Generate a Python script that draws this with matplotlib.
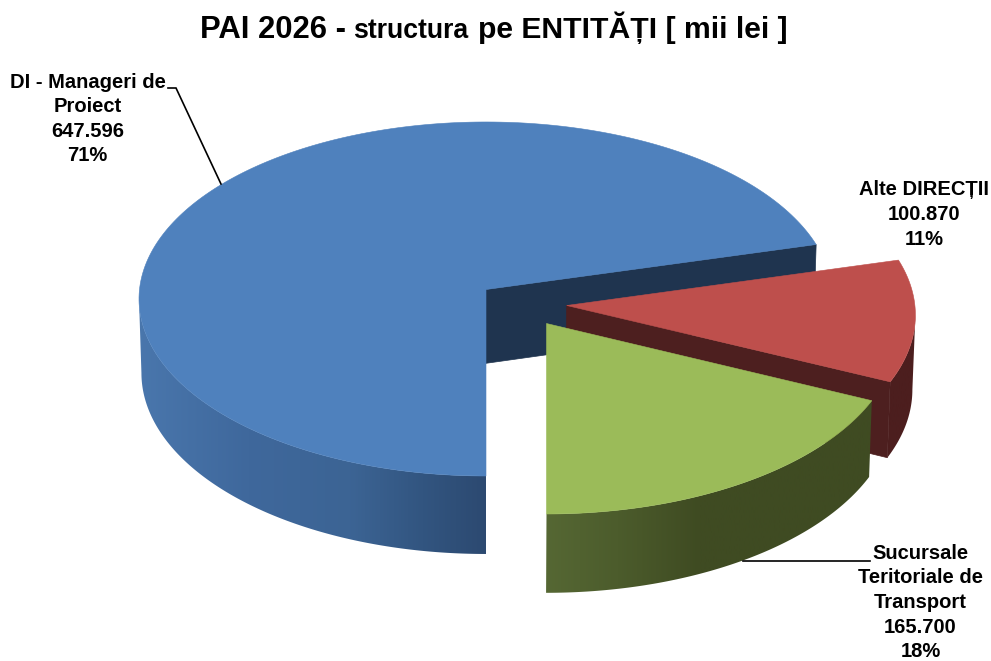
import numpy as np
import matplotlib
matplotlib.use("Agg")
import matplotlib.pyplot as plt
from matplotlib.patches import Polygon

# ---- data ----
categories = ["DI - Manageri de\nProiect", "Alte DIRECȚII", "Sucursale\nTeritoriale de\nTransport"]
values = [647596, 100870, 165700]
title_parts = ["PAI 2026 -", "structura", "pe ENTITĂȚI [ mii lei ]"]

# ---- layout / style ----
W, H = 991, 661
CX, CY, A, B, K = 486.0, 289.5, 346.5, 176.5, 0.0536
DEPTH, XSHRINK = 73.8, 0.993
START = 270.0
SILHOUETTE = np.degrees(np.arcsin(K))  # angle of the widest point of the perspective ellipse
offsets = [(0.0, 0.0), (80.7, -0.0902), (60.5, -0.1907)]  # screen x shift, depth shift
top_colors = ["#4f81bd", "#be4f4c", "#9bbb59"]
inner_colors = ["#1f344f", "#4d1f1f", None]
wall_stops = [
    ([140, 250, 350, 420, 484], [(74, 119, 173), (63, 104, 156), (60, 100, 148), (50, 85, 128), (44, 73, 112)]),
    ([560, 920], [(76, 30, 30), (76, 30, 30)]),
    ([547, 620, 700, 870], [(86, 104, 52), (76, 92, 44), (63, 75, 34), (63, 75, 34)]),
]
label_pos = [(87.5, 119), (924, 214.5), (920.5, 602.5)]
plt.rcParams["font.family"] = ["Liberation Sans", "DejaVu Sans"]


def project(u, v, off, lower=False):
    v = v + off[1]
    w = 1 + K * v
    x = off[0] + A * u / w
    y = -B * v / w
    if lower:
        return CX + x * XSHRINK, CY + y + DEPTH / w
    return CX + x, CY + y


def side_points(theta1, theta2, off, lower=False):
    t = np.radians(np.linspace(theta1, theta2, 240))
    return np.column_stack(project(np.cos(t), np.sin(t), off, lower))


fig = plt.figure(figsize=(W / 100, H / 100), dpi=100, facecolor="white")
ax = fig.add_axes([0, 0, 1, 1])
total = sum(values)
sweeps = [v / total * 360 for v in values]

theta = START
z = 1
for i, sweep in enumerate(sweeps):
    t1, t2 = theta, theta - sweep
    off = offsets[i]
    top_arc = side_points(t1, t2, off)
    apex_top = np.array(project(0, 0, off))
    apex_bot = np.array(project(0, 0, off, True))
    corner_bot = side_points(t1, t2, off, True)[-1]

    # cut face at the clockwise end of the slice
    if inner_colors[i]:
        ax.add_patch(Polygon([apex_top, top_arc[-1], corner_bot, apex_bot], closed=True,
                             fc=inner_colors[i], ec=inner_colors[i], lw=0.5, zorder=z))
        z += 1

    # outer rim, only the part that faces the viewer, with a horizontal shading
    if t1 > 180:
        r1, r2 = t1, max(t2, 180 + SILHOUETTE)
    else:
        r1, r2 = min(t1, -SILHOUETTE), t2
    rim_top = side_points(r1, r2, off)
    rim_bot = side_points(r1, r2, off, True)
    wall = Polygon(np.vstack([rim_top, rim_bot[::-1]]), closed=True, fc="none", ec="none", zorder=z)
    ax.add_patch(wall)
    xs, cols = wall_stops[i]
    grid = np.linspace(xs[0], xs[-1], 256)
    grad = np.stack([np.interp(grid, xs, [c[k] for c in cols]) for k in range(3)], axis=-1)[None, :, :] / 255
    im = ax.imshow(grad, extent=[xs[0] - 5, xs[-1] + 5, 0, H], origin="lower", aspect="auto",
                   interpolation="bilinear", zorder=z + 1)
    im.set_clip_path(wall)
    z += 2

    # top face
    ax.add_patch(Polygon(np.vstack([[apex_top], top_arc]), closed=True,
                         fc=top_colors[i], ec=top_colors[i], lw=0.4, zorder=z))
    z += 1
    theta = t2

ax.set_xlim(0, W)
ax.set_ylim(H, 0)
ax.axis("off")

# leader lines
ax.plot([168, 176, 221], [88, 88, 184], color="black", lw=1.2, zorder=z, solid_joinstyle="miter")
ax.plot([743, 870], [561, 561], color="black", lw=1.2, zorder=z)

# data labels
for cat, val, (lx, ly) in zip(categories, values, label_pos):
    amount = f"{val:,}".replace(",", ".")
    pct = f"{val / total * 100:.0f}%"
    ax.text(lx, ly, f"{cat}\n{amount}\n{pct}", ha="center", va="center", ma="center",
            fontsize=14.5, fontweight="bold", color="black", linespacing=1.37, zorder=z + 1, clip_on=False)

# title pieces with the mixed sizes of the original
for part, x, size in zip(title_parts, [200, 353, 478], [22.3, 19.2, 21.7]):
    ax.text(x, 38, part, ha="left", va="baseline", fontsize=size, fontweight="bold", color="black")

fig.savefig("out.png", dpi=100, facecolor="white")
